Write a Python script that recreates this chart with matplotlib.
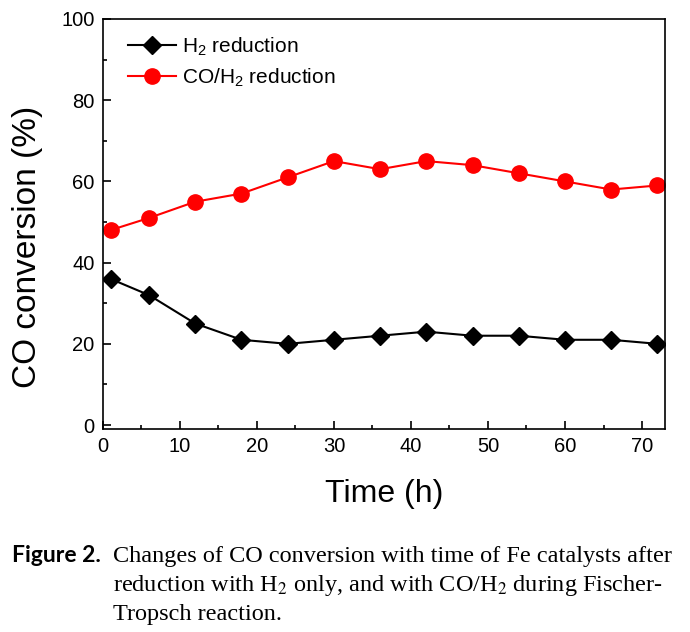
import matplotlib
matplotlib.use("Agg")
import matplotlib.pyplot as plt
from matplotlib.ticker import MultipleLocator

plt.rcParams['font.family'] = ['Liberation Sans', 'DejaVu Sans']
plt.rcParams['mathtext.fontset'] = 'custom'
plt.rcParams['mathtext.rm'] = 'Liberation Sans'
plt.rcParams['mathtext.it'] = 'Liberation Sans:italic'

# Data
time_h = [1, 6, 12, 18, 24, 30, 36, 42, 48, 54, 60, 66, 72]
h2_conv = [36, 32, 25, 21, 20, 21, 22, 23, 22, 22, 21, 21, 20]
coh2_conv = [48, 51, 55, 57, 61, 65, 63, 65, 64, 62, 60, 58, 59]

fig = plt.figure(figsize=(6.9, 6.32), dpi=100)
ax = fig.add_axes([0.149, 0.321, 0.815, 0.649])

ax.plot(time_h, h2_conv, color='black', lw=1.5, marker='D', ms=9.5,
        label='H$_2$ reduction')
ax.plot(time_h, coh2_conv, color='red', lw=1.5, marker='o', ms=11,
        label='CO/H$_2$ reduction')

ax.set_xlim(0, 73)
ax.set_ylim(-1, 100)
ax.xaxis.set_major_locator(MultipleLocator(10))
ax.xaxis.set_minor_locator(MultipleLocator(5))
ax.yaxis.set_major_locator(MultipleLocator(20))
ax.yaxis.set_minor_locator(MultipleLocator(10))
ax.tick_params(which='both', direction='in', labelsize=14.5, width=1.2)
ax.tick_params(which='major', length=6, pad=6)
ax.tick_params(which='minor', length=3)
for s in ax.spines.values():
    s.set_linewidth(1.2)

ax.set_xlabel('Time (h)', fontsize=23, labelpad=16)
ax.set_ylabel('CO conversion (%)', fontsize=24)
ax.yaxis.set_label_coords(-0.107, 0.444)

ax.legend(loc='upper left', frameon=False, fontsize=15, handlelength=2.3,
          handletextpad=0.3, labelspacing=0.42, borderaxespad=0.4,
          bbox_to_anchor=(0.015, 1.0))

# caption
fig.text(0.017, 0.111, 'Figure 2.', fontsize=16.5, fontweight='bold',
         family=['Lato', 'DejaVu Sans'], va='baseline')
cap_font = ['Liberation Serif', 'DejaVu Serif']
fig.text(0.164, 0.111, 'Changes of CO conversion with time of Fe catalysts after',
         fontsize=17.5, family=cap_font, va='baseline')
fig.text(0.164, 0.065, 'reduction with H$_2$ only, and with CO/H$_2$ during Fischer-',
         fontsize=17.5, family=cap_font, va='baseline', math_fontfamily='stix')
fig.text(0.164, 0.019, 'Tropsch reaction.',
         fontsize=17.5, family=cap_font, va='baseline')

fig.savefig('out.png', dpi=100)
